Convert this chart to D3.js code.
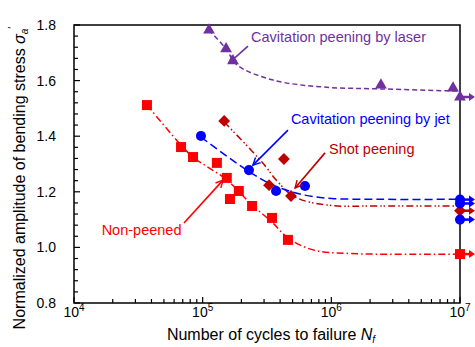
<!DOCTYPE html>
<html>
<head>
<meta charset="utf-8">
<script src="https://cdn.jsdelivr.net/npm/d3@7"></script>
<style>
  body { margin: 0; background: #fff; }
  svg { font-family: "Liberation Sans", Arial, sans-serif; }
</style>
</head>
<body>
<div id="chart"></div>
<script>
// measured points [cycles, normalized stress]
const nonPeened = [
  [36900, 1.512], [67900, 1.361], [84100, 1.325], [129000, 1.304], [154000, 1.250],
  [191000, 1.203], [163000, 1.174], [242000, 1.149], [346000, 1.106], [460000, 1.027]
];
const jet = [[97000, 1.401], [229000, 1.278], [372000, 1.203], [624000, 1.221]];
const shot = [[147000, 1.455], [428000, 1.318], [328000, 1.224], [486000, 1.185]];
const laser = [[112000, 1.782], [152000, 1.714], [172000, 1.671], [2430000, 1.584], [8830000, 1.573]];

// run-outs (no failure at 10^7)
const nonPeenedRunout = [[1e7, 0.976]];
const jetRunout = [[1e7, 1.172], [1e7, 1.158], [1e7, 1.100]];
const shotRunout = [[1e7, 1.132]];
const laserRunout = [[1e7, 1.541]];

// fitted curves
const nonPeenedFit = [
  [36900, 1.512], [67900, 1.368], [84100, 1.325], [154600, 1.242], [241800, 1.153],
  [345800, 1.091], [460400, 1.034], [720000, 0.991], [1400000, 0.978], [1e7, 0.976]
];
const jetFit = [
  [97000, 1.397], [225000, 1.275], [365000, 1.221], [624000, 1.188],
  [1010000, 1.176], [2390000, 1.173], [1e7, 1.173]
];
const shotFit = [
  [147000, 1.451], [289000, 1.307], [385000, 1.235], [522000, 1.181],
  [942000, 1.152], [2390000, 1.149], [1e7, 1.149]
];
const laserFit = [
  [112000, 1.782], [152000, 1.714], [185000, 1.656], [352000, 1.602],
  [861000, 1.577], [2480000, 1.570], [8800000, 1.563], [1e7, 1.563]
];

const xTicks = [1e4, 1e5, 1e6, 1e7];
const yTicks = [0.8, 1.0, 1.2, 1.4, 1.6, 1.8];

// annotations: label position and arrow [from, to]
const notes = [
  { text: 'Cavitation peening by laser', at: [237700, 1.757], from: [225000, 1.724], to: [160000, 1.663], color: '#7030a0' },
  { text: 'Cavitation peening by jet', at: [485000, 1.462], from: [460000, 1.422], to: [246000, 1.296], color: '#0000ff' },
  { text: 'Shot peening', at: [959000, 1.354], from: [893000, 1.340], to: [523000, 1.214], color: '#c00000' },
  { text: 'Non-peened', at: [16400, 1.063], from: [71600, 1.088], to: [144000, 1.242], color: '#ff0000' }
];

const width = 475, height = 347;
const margin = { top: 25, right: 15, bottom: 44, left: 74 };

const svg = d3.select('#chart').append('svg')
  .attr('width', width)
  .attr('height', height);

const x = d3.scaleLog().domain([1e4, 1e7]).range([margin.left, width - margin.right]);
const y = d3.scaleLinear().domain([0.8, 1.8]).range([height - margin.bottom, margin.top]);

const defs = svg.append('defs');
notes.forEach((n, i) => {
  defs.append('marker')
    .attr('id', 'arr' + i)
    .attr('viewBox', '0 0 10 10')
    .attr('refX', 9).attr('refY', 5)
    .attr('markerWidth', 9).attr('markerHeight', 9)
    .attr('markerUnits', 'userSpaceOnUse')
    .attr('orient', 'auto')
    .append('path')
    .attr('d', 'M1,1 L9,5 L1,9')
    .attr('fill', 'none')
    .attr('stroke', n.color)
    .attr('stroke-width', 1.6);
});

// frame
svg.append('rect')
  .attr('x', x(1e4)).attr('y', y(1.8))
  .attr('width', x(1e7) - x(1e4))
  .attr('height', y(0.8) - y(1.8))
  .attr('fill', 'none')
  .attr('stroke', '#000')
  .attr('stroke-width', 1.5);

// x ticks (inside, log minors)
const xMinor = [];
for (let e = 4; e < 7; e++) for (let m = 2; m <= 9; m++) xMinor.push(m * Math.pow(10, e));
svg.append('g').selectAll('line')
  .data(xMinor.concat(xTicks))
  .join('line')
  .attr('x1', d => x(d)).attr('x2', d => x(d))
  .attr('y1', y(0.8)).attr('y2', d => y(0.8) - (xTicks.includes(d) ? 6 : 4))
  .attr('stroke', '#000').attr('stroke-width', 1.2);

const xl = svg.append('g').selectAll('text')
  .data(xTicks)
  .join('text')
  .attr('x', d => x(d))
  .attr('y', 317)
  .attr('text-anchor', 'middle')
  .attr('font-size', 14);
xl.append('tspan').text('10');
xl.append('tspan').attr('dy', -6).attr('font-size', 10).text(d => Math.round(Math.log10(d)));

// y ticks
const yMinor = d3.range(0, 26).map(i => +(0.8 + i * 0.04).toFixed(2));
svg.append('g').selectAll('line')
  .data(yMinor)
  .join('line')
  .attr('x1', x(1e4))
  .attr('x2', d => x(1e4) + (yTicks.some(t => Math.abs(t - d) < 1e-6) ? 6 : 4))
  .attr('y1', d => y(d)).attr('y2', d => y(d))
  .attr('stroke', '#000').attr('stroke-width', 1.2);

svg.append('g').selectAll('text')
  .data(yTicks)
  .join('text')
  .attr('x', 56)
  .attr('y', d => y(d) + 5)
  .attr('text-anchor', 'end')
  .attr('font-size', 14)
  .text(d => d.toFixed(1));

// axis titles
const xt = svg.append('text')
  .attr('x', (x(1e4) + x(1e7)) / 2 + 4)
  .attr('y', 340)
  .attr('text-anchor', 'middle')
  .attr('font-size', 16);
xt.append('tspan').text('Number of cycles to failure ');
xt.append('tspan').attr('font-style', 'italic').text('N');
xt.append('tspan').attr('font-style', 'italic').attr('font-size', 10).attr('dy', 3).text('f');

const yt = svg.append('text')
  .attr('transform', `translate(25,${(y(0.8) + y(1.8)) / 2 + 14}) rotate(-90)`)
  .attr('text-anchor', 'middle')
  .attr('font-size', 16);
yt.append('tspan').text('Normalized amplitude of bending stress ');
yt.append('tspan').attr('font-style', 'italic').text('σ');
yt.append('tspan').attr('font-style', 'italic').attr('font-size', 10).attr('dy', 3).text('a');
yt.append('tspan').attr('font-size', 11).attr('dy', -12).text('\u2032');

// fitted curves
const fitLine = d3.line()
  .x(d => x(d[0]))
  .y(d => y(d[1]))
  .curve(d3.curveCatmullRom.alpha(0.5));

const fits = [
  { data: nonPeenedFit, color: '#ff0000', dash: '7,3,1.5,3' },
  { data: shotFit, color: '#c00000', dash: '7,3,1.5,2,1.5,3' },
  { data: jetFit, color: '#0000ff', dash: '8,4' },
  { data: laserFit, color: '#7030a0', dash: '5,3' }
];
svg.append('g').selectAll('path')
  .data(fits)
  .join('path')
  .attr('d', d => fitLine(d.data))
  .attr('fill', 'none')
  .attr('stroke', d => d.color)
  .attr('stroke-width', 1.5)
  .attr('stroke-dasharray', d => d.dash);

// run-out arrows
const runouts = [
  { data: laserRunout, color: '#7030a0' },
  { data: jetRunout, color: '#0000ff' },
  { data: shotRunout, color: '#c00000' },
  { data: nonPeenedRunout, color: '#ff0000' }
];
runouts.forEach(r => {
  const g = svg.append('g');
  g.selectAll('line')
    .data(r.data)
    .join('line')
    .attr('x1', d => x(d[0])).attr('x2', d => x(d[0]) + 10)
    .attr('y1', d => y(d[1])).attr('y2', d => y(d[1]))
    .attr('stroke', r.color).attr('stroke-width', 2.5);
  g.selectAll('path')
    .data(r.data)
    .join('path')
    .attr('d', d => `M${x(d[0]) + 9},${y(d[1]) - 4} L${x(d[0]) + 15},${y(d[1])} L${x(d[0]) + 9},${y(d[1]) + 4}Z`)
    .attr('fill', r.color);
});

// markers
const sym = (type, size) => d3.symbol().type(type).size(size)();
const series = [
  { data: nonPeened.concat(nonPeenedRunout), color: '#ff0000', path: sym(d3.symbolSquare, 100), rot: 0 },
  { data: shot.concat(shotRunout), color: '#c00000', path: sym(d3.symbolSquare, 70), rot: 45 },
  { data: jet.concat(jetRunout), color: '#0000ff', path: sym(d3.symbolCircle, 80), rot: 0 },
  { data: laser.concat(laserRunout), color: '#7030a0', path: sym(d3.symbolTriangle, 60), rot: 0 }
];
series.forEach(s => {
  svg.append('g').selectAll('path')
    .data(s.data)
    .join('path')
    .attr('transform', d => `translate(${x(d[0])},${y(d[1])}) rotate(${s.rot})`)
    .attr('d', s.path)
    .attr('fill', s.color);
});

// annotations
notes.forEach((n, i) => {
  svg.append('line')
    .attr('x1', x(n.from[0])).attr('y1', y(n.from[1]))
    .attr('x2', x(n.to[0])).attr('y2', y(n.to[1]))
    .attr('stroke', n.color)
    .attr('stroke-width', 1.6)
    .attr('marker-end', `url(#arr${i})`);
  svg.append('text')
    .attr('x', x(n.at[0]))
    .attr('y', y(n.at[1]) + 5)
    .attr('font-size', 14.5)
    .attr('fill', n.color)
    .text(n.text);
});
</script>
</body>
</html>
